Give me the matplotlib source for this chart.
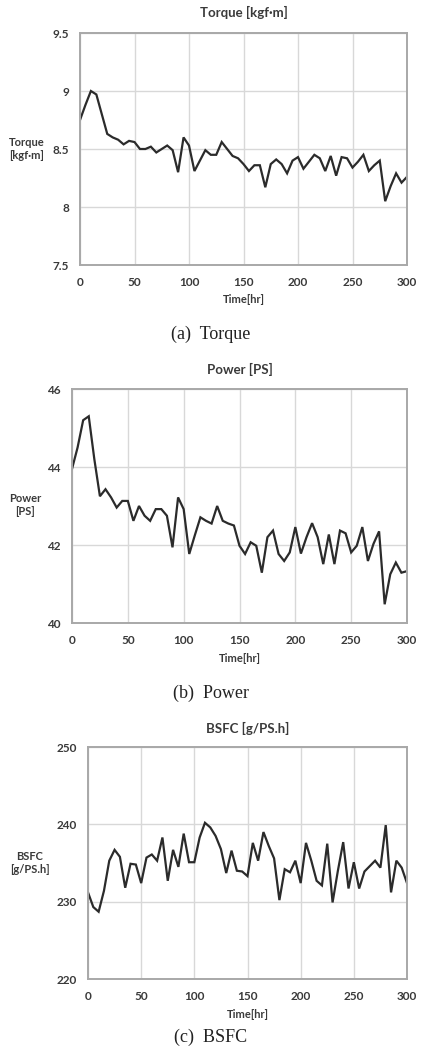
import matplotlib
matplotlib.use("Agg")
import matplotlib.pyplot as plt
import numpy as np

time_hr = list(range(0, 301, 5))

torque = [8.75, 8.88, 9.00, 8.97, 8.80, 8.63, 8.60, 8.58, 8.54, 8.57,
          8.56, 8.50, 8.50, 8.52, 8.47, 8.50, 8.53, 8.49, 8.30, 8.60,
          8.53, 8.31, 8.40, 8.49, 8.45, 8.45, 8.56, 8.50, 8.44, 8.42,
          8.37, 8.31, 8.36, 8.36, 8.17, 8.37, 8.41, 8.37, 8.29, 8.40,
          8.43, 8.33, 8.39, 8.45, 8.42, 8.31, 8.44, 8.27, 8.43, 8.42,
          8.34, 8.39, 8.45, 8.31, 8.36, 8.40, 8.05, 8.18, 8.29, 8.21,
          8.26]

power = [43.95, 44.50, 45.20, 45.30, 44.20, 43.25, 43.43, 43.22, 42.96, 43.13,
         43.13, 42.62, 43.00, 42.75, 42.62, 42.92, 42.92, 42.75, 41.94, 43.22,
         42.92, 41.77, 42.25, 42.71, 42.62, 42.55, 43.00, 42.62, 42.55, 42.50,
         41.98, 41.77, 42.07, 41.98, 41.29, 42.20, 42.37, 41.77, 41.59, 41.81,
         42.46, 41.78, 42.20, 42.56, 42.20, 41.51, 42.27, 41.51, 42.37, 42.30,
         41.81, 41.98, 42.46, 41.59, 42.03, 42.35, 40.48, 41.25, 41.55, 41.29,
         41.33]

bsfc = [231.2, 229.3, 228.7, 231.4, 235.3, 236.7, 235.8, 231.8, 234.9, 234.8,
        232.4, 235.7, 236.1, 235.3, 238.3, 232.7, 236.7, 234.5, 238.8, 235.1,
        235.1, 238.3, 240.2, 239.6, 238.5, 236.8, 233.7, 236.6, 234.0, 233.9,
        233.3, 237.6, 235.3, 239.0, 237.2, 235.6, 230.2, 234.2, 233.8, 235.3,
        232.4, 237.6, 235.3, 232.7, 232.1, 237.5, 229.9, 234.0, 237.7, 231.7,
        235.1, 231.7, 233.9, 234.6, 235.3, 234.4, 239.9, 231.2, 235.3, 234.4,
        232.4]

x_ticks = [0, 50, 100, 150, 200, 250, 300]
torque_ticks = [7.5, 8, 8.5, 9, 9.5]
torque_ticklabels = ["7.5", "8", "8.5", "9", "9.5"]
power_ticks = [40, 42, 44, 46]
bsfc_ticks = [220, 230, 240, 250]

W, H = 421, 1049
fig = plt.figure(figsize=(W / 100, H / 100), dpi=100)
fig.patch.set_facecolor("white")

SANS = ["Lato", "DejaVu Sans"]
TXT = "#3a3a3a"


def px_axes(left, top, right, bottom):
    return fig.add_axes([left / W, 1 - bottom / H, (right - left) / W, (bottom - top) / H])


def make_panel(box, x, y, yticks, yticklabels, title, ylabel, title_y, ylabel_xy, xlabel_y,
               caption, caption_y, caption_va="center"):
    left, top, right, bottom = box
    ax = px_axes(left, top, right, bottom)
    ax.plot(x, y, color="#2b2b2b", lw=1.6, solid_joinstyle="miter")
    ax.set_xlim(0, 300)
    ax.set_ylim(yticks[0], yticks[-1])
    ax.set_xticks(x_ticks)
    ax.set_yticks(yticks)
    ax.set_yticklabels(yticklabels)
    ax.grid(True, color="#d8d8d8", lw=1.0)
    ax.set_axisbelow(True)
    for s in ax.spines.values():
        s.set_color("#a8a8a8")
        s.set_linewidth(1.4)
    ax.tick_params(length=0, labelsize=8.5, labelcolor=TXT)
    ax.tick_params(axis="x", pad=9)
    ax.tick_params(axis="y", pad=8)
    for lab in ax.get_xticklabels() + ax.get_yticklabels():
        lab.set_fontweight("bold")
        lab.set_family(SANS)
    cx = (left + right) / 2
    fig.text(cx / W, 1 - title_y / H, title, ha="center", va="center",
             fontsize=9.5, fontweight="bold", color=TXT, family=SANS)
    fig.text(ylabel_xy[0] / W, 1 - ylabel_xy[1] / H, ylabel, ha="center", va="center",
             fontsize=8, fontweight="bold", color=TXT, family=SANS, linespacing=1.25)
    fig.text(cx / W, 1 - xlabel_y / H, "Time[hr]", ha="center", va="center",
             fontsize=8, fontweight="bold", color=TXT, family=SANS)
    fig.text(211 / W, 1 - caption_y / H, caption, ha="center", va=caption_va,
             fontsize=13, color="#222222", family=["Liberation Serif", "DejaVu Serif"])
    return ax


make_panel((80, 33, 407, 265), time_hr, torque, torque_ticks, torque_ticklabels,
           "Torque [kgf\u00b7m]", "Torque\n[kgf\u00b7m]", 12, (27, 149), 300,
           "(a)  Torque", 334)

make_panel((72, 389, 407, 623), time_hr, power, power_ticks, [str(v) for v in power_ticks],
           "Power [PS]", "Power\n[PS]", 369, (25, 505), 658,
           "(b)  Power", 693)

make_panel((88, 747, 407, 979), time_hr, bsfc, bsfc_ticks, [str(v) for v in bsfc_ticks],
           "BSFC [g/PS.h]", "BSFC\n[g/PS.h]", 728, (30, 863), 1015,
           "(c)  BSFC", 1029, caption_va="top")

fig.savefig("out.png", dpi=100, facecolor="white")
